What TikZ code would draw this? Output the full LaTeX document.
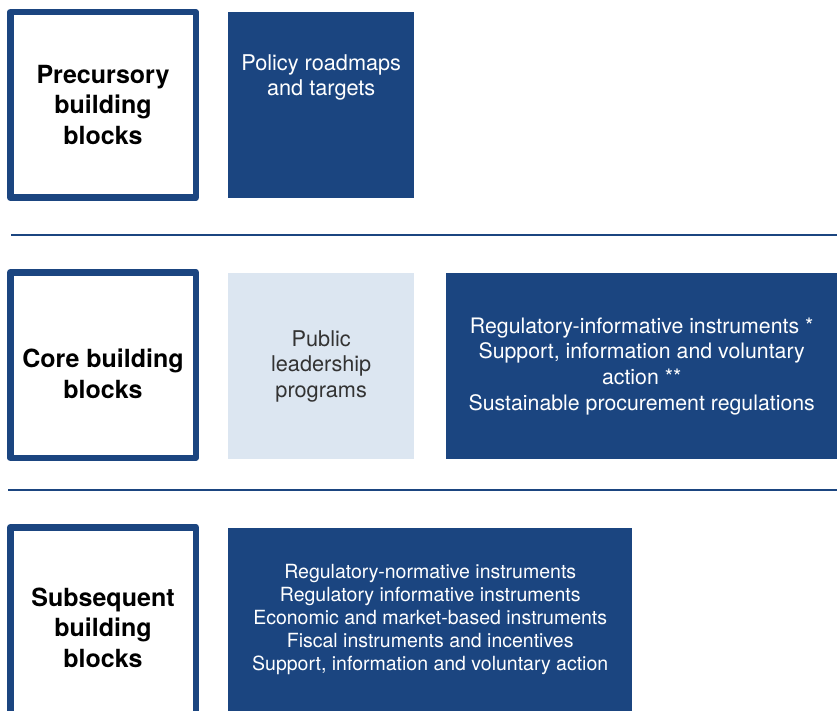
\documentclass[tikz,border=0pt]{standalone}
\usepackage{fontspec}
\setmainfont{TeX Gyre Heros}
\definecolor{navy}{HTML}{1B4580}
\definecolor{paleblue}{HTML}{DCE6F1}
\definecolor{greytext}{HTML}{333333}
\tikzset{
  rowlabel/.style={draw=navy, line width=6.5pt, fill=white, anchor=north west,
    minimum width=185.5pt, minimum height=185.5pt, inner sep=0pt, align=center,
    font=\bfseries\fontsize{25}{30.5}\selectfont},
  labeltext/.style={inner sep=0pt, align=center, font=\bfseries\fontsize{25}{30.5}\selectfont},
  darkbox/.style={fill=navy, text=white, anchor=north west, inner sep=0pt,
    align=center, font=\fontsize{21.7}{25.5}\selectfont},
  palebox/.style={darkbox, fill=paleblue, text=greytext},
  rowrule/.style={navy, line width=2pt}
}
\begin{document}
\begin{tikzpicture}[x=1pt,y=-1pt,line join=round]
  \useasboundingbox (0,0) rectangle (837,711);
  % first row
  \node[rowlabel] (precursory) at (7,9) {Precursory\\building\\blocks};
  \node[darkbox, minimum width=186pt, minimum height=186pt] (roadmaps) at (228,12) {};
  \node[darkbox, anchor=north] (roadmapstext) at ([yshift=-42pt]roadmaps.north) {Policy roadmaps\\and targets};
  \draw[rowrule] (11,235) -- (837,235);
  % second row
  \node[rowlabel] (core) at (7,269) {};
  \node[labeltext] (coretext) at ([yshift=-9pt]core.center) {Core building\\blocks};
  \node[palebox, minimum width=186pt, minimum height=186pt] (leadership) at (228,273) {Public\\leadership\\programs};
  \node[darkbox, minimum width=391pt, minimum height=186pt, font=\fontsize{21.3}{25.7}\selectfont] (instruments) at (446,273)
    {Regulatory-informative instruments *\\Support, information and voluntary\\action **\\Sustainable procurement regulations};
  \draw[rowrule] (8,490) -- (837,490);
  % third row
  \node[rowlabel, minimum height=201pt] (subsequent) at (7,524) {Subsequent\\building\\blocks};
  \node[darkbox, minimum width=404pt, minimum height=183pt, font=\fontsize{19.5}{23}\selectfont] (measures) at (228,528)
    {Regulatory-normative instruments\\Regulatory informative instruments\\Economic and market-based instruments\\Fiscal instruments and incentives\\Support, information and voluntary action};
\end{tikzpicture}
\end{document}
